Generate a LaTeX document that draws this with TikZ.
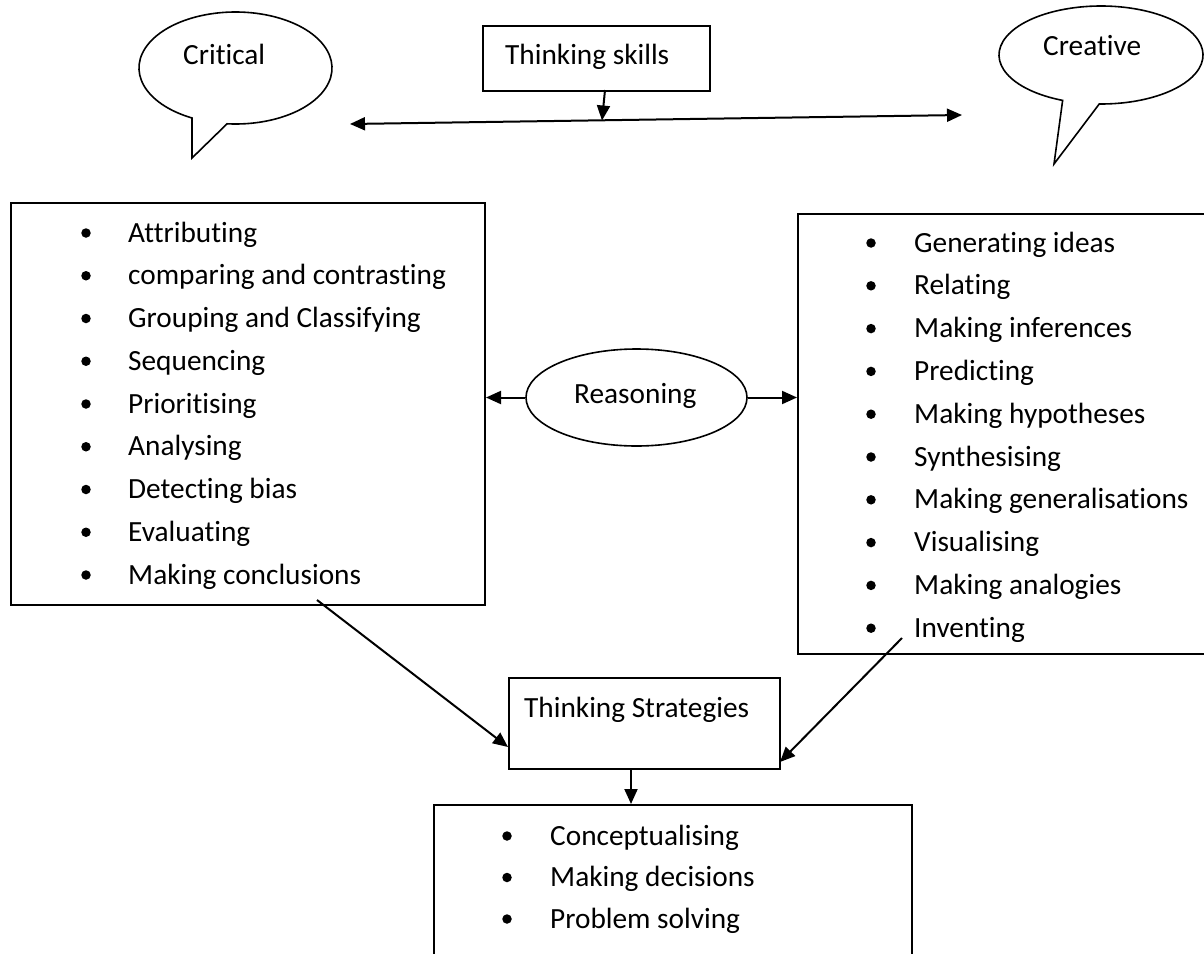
\documentclass[tikz,border=0pt]{standalone}
\usepackage{fontspec}
\setmainfont{Carlito}[Ligatures=NoCommon,RawFeature={-liga;-clig;-dlig}]
\usetikzlibrary{arrows.meta,calc,shapes.geometric}
\begin{document}
\begin{tikzpicture}[x=1pt,y=-1pt,
  txt/.style={font=\fontsize{29.3}{35}\selectfont, inner sep=0pt, anchor=base west},
  boxline/.style={draw, line width=2pt, inner sep=0pt, anchor=north west},
  shapeline/.style={line width=1.6pt},
  tip/.tip={Triangle[length=15pt,width=13pt]},
  conn/.style={line width=2pt, -tip},
  dconn/.style={line width=2pt, tip-tip},
  dot/.style={circle, fill, inner sep=0pt, minimum size=9.5pt}
]
\useasboundingbox (0,0) rectangle (1204,953);
\fill[white] (0,0) rectangle (1204,953);

% speech bubbles
\draw[shapeline] (235.5,68) ++(116.8:96.5 and 56) arc[start angle=116.8,end angle=455,x radius=96.5,y radius=56] -- (192,158) -- cycle;
\node[txt] (critical) at (183,64) {Critical};
\draw[shapeline] (1101,55) ++(112.1:102 and 49) arc[start angle=112.1,end angle=451,x radius=102,y radius=49] -- (1054,164) -- cycle;
\node[txt] (creative) at (1043,55) {Creative};

% thinking skills
\node[boxline, minimum width=227pt, minimum height=65pt] (skills) at (482,25) {};
\node[txt] (skillsT) at (505,64) {Thinking skills};
\coordinate (hl) at (350,124);
\coordinate (hr) at (962,115);
\coordinate (sk) at (605,90);
\coordinate (hm) at (602,120.5);
\draw[dconn] (hl) -- (hr);
\draw[conn] (sk) -- (hm);

\begin{scope}
\clip (0,0) rectangle (1204,953);
\node[boxline, minimum width=474pt, minimum height=402pt] (left) at (10,202) {};
\node[boxline, minimum width=413pt, minimum height=440pt] (right) at (797,213) {};
\node[boxline, minimum width=478pt, minimum height=200pt] (out) at (433,804) {};
\end{scope}
\node[boxline, minimum width=271pt, minimum height=91pt] (ts) at (508,677) {};
\node[txt] (tsT) at (524,717) {Thinking Strategies};

% reasoning
\node[draw, ellipse, line width=1.6pt, minimum width=221pt, minimum height=97pt, inner sep=0pt] (reason) at (636.5,397.5) {};
\node[txt] (reasonT) at (574,403) {Reasoning};
\draw[conn] (reason.west) -- (reason.west -| left.east);
\draw[conn] (reason.east) -- (reason.east -| right.west);

% lists
\foreach \t [count=\i from 0] in {Attributing,comparing and contrasting,Grouping and Classifying,Sequencing,Prioritising,Analysing,Detecting bias,Evaluating,Making conclusions}{
  \node[txt] (L\i) at (128,242+\i*42.75) {\t};
  \node[dot] (Lb\i) at (86,233+\i*42.75) {};
}
\foreach \t [count=\i from 0] in {Generating ideas,Relating,Making inferences,Predicting,Making hypotheses,Synthesising,Making generalisations,Visualising,Making analogies,Inventing}{
  \node[txt] (R\i) at (914,252+\i*42.8) {\t};
  \node[dot] (Rb\i) at (871,243+\i*42.8) {};
}
\foreach \t [count=\i from 0] in {Conceptualising,Making decisions,Problem solving}{
  \node[txt] (B\i) at (550,845+\i*41.5) {\t};
  \node[dot] (Bb\i) at (507,836+\i*41.5) {};
}

% strategies connectors
\coordinate (la) at (317,600);
\coordinate (lb) at (508,747);
\coordinate (ra) at (902,638);
\coordinate (rb) at (780,762);
\coordinate (ta) at (631,768);
\coordinate (tb) at (631,804);
\draw[conn] (la) -- (lb);
\draw[conn] (ra) -- (rb);
\draw[conn] (ta) -- (tb);
\end{tikzpicture}
\end{document}
